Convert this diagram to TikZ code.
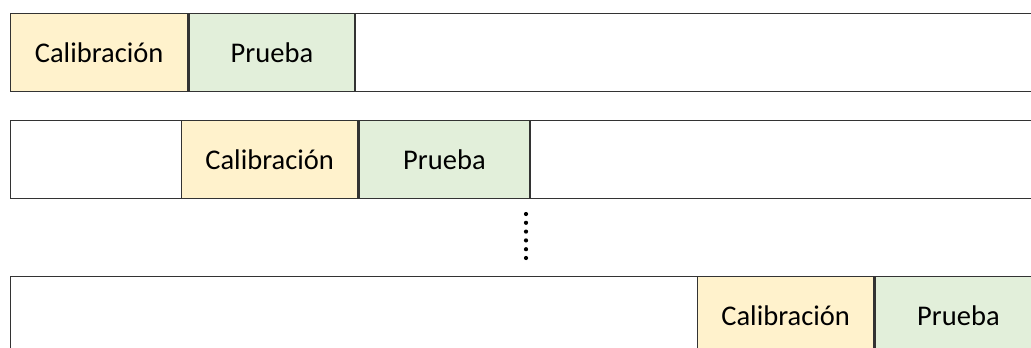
\documentclass[tikz,border=0pt]{standalone}
\usepackage{fontspec}
\setmainfont{Carlito}
\begin{document}
\begin{tikzpicture}[x=1pt,y=-1pt,
  edge/.style={draw=black!80,line width=1.3pt},
  rowbox/.style={edge,fill=white,rectangle,inner sep=0pt,minimum height=78pt,anchor=north west},
  calbox/.style={edge,fill=calfill,rectangle,inner sep=0pt,minimum width=176pt,minimum height=78pt,anchor=north west,font=\fontsize{28.5}{30}\selectfont},
  prbox/.style={edge,fill=prfill,rectangle,inner sep=0pt,minimum width=167pt,minimum height=78pt,anchor=north west,font=\fontsize{28.5}{30}\selectfont},
  dotmark/.style={circle,fill=black,inner sep=0pt,minimum size=4.2pt}]
\definecolor{calfill}{HTML}{FFF2CC}
\definecolor{prfill}{HTML}{E2EFDA}
\path[use as bounding box,clip] (0,0) rectangle (1031,348);
% row 1
\node[rowbox,minimum width=1040pt] (r1) at (10,13) {};
\node[calbox,minimum width=177pt] (c1) at (10,13) {Calibración};
\node[prbox,minimum width=166pt] (p1) at (c1.north east) {Prueba};
% row 2
\node[rowbox,minimum width=1040pt] (r2) at (10,120) {};
\node[calbox] (c2) at (181,120) {Calibración};
\node[prbox,minimum width=171pt] (p2) at (c2.north east) {Prueba};
% dots
\foreach \i in {0,...,5}{
  \node[dotmark] (d\i) at (526,{214+8.8*\i}) {};
}
% row 3
\node[rowbox,minimum width=1040pt,minimum height=90pt] (r3) at (10,276) {};
\node[calbox] (c3) at (697,276) {Calibración};
\node[prbox] (p3) at (c3.north east) {Prueba};
\end{tikzpicture}
\end{document}
